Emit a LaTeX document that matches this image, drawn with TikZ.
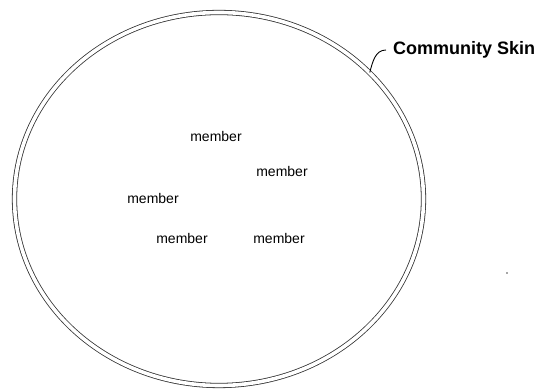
\documentclass[tikz,border=0pt]{standalone}
\usepackage{fontspec}
\setmainfont{Liberation Sans}
\usetikzlibrary{shapes.geometric}
\begin{document}
\begin{tikzpicture}[x=1pt,y=1pt,
  skinstyle/.style={ellipse, draw=black!80, line width=0.8pt, double=white, double distance=3.6pt, inner sep=0pt},
  memberlabel/.style={font=\fontsize{14}{16}\selectfont, inner sep=0pt},
  skinlabel/.style={font=\fontsize{18}{20}\selectfont\bfseries, inner sep=0pt, anchor=west},
  leader/.style={draw=black, line width=0.9pt}]
\useasboundingbox (0,0) rectangle (540,390);
\node[skinstyle, minimum width=409pt, minimum height=373pt] (skin) at (219,191) {};
\node[skinlabel] (lab) at (393,340) {Community Skin};
\draw[leader] (skin.40) to[out=75,in=180] ([xshift=-7pt]lab.west);
\node[memberlabel] (m1) at (216,253) {member};
\node[memberlabel] (m2) at (282,218) {member};
\node[memberlabel] (m3) at (153,191) {member};
\node[memberlabel] (m4) at (182,152) {member};
\node[memberlabel] (m5) at (279,152) {member};
\fill[black!70] (507,117) circle (0.9pt);
\end{tikzpicture}
\end{document}
